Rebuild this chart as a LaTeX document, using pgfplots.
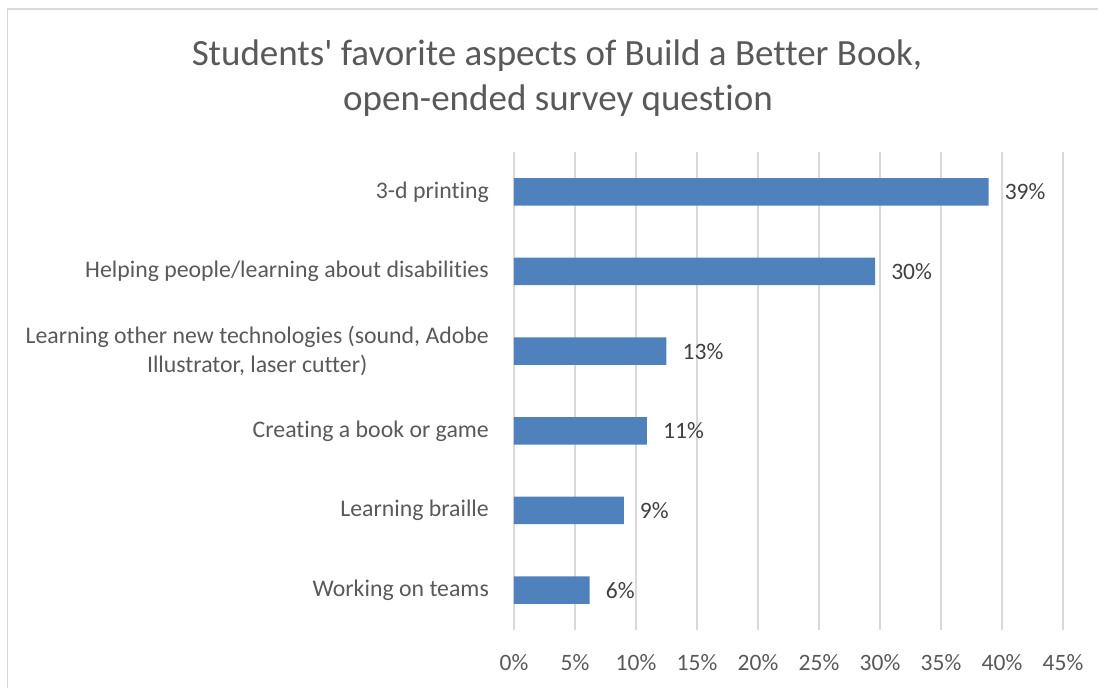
\documentclass[border=0pt]{standalone}
\usepackage{pgfplots}
\pgfplotsset{compat=1.18}
\usepackage{fontspec}
\setmainfont{Carlito}[Ligatures={NoCommon,TeXOff}]
\definecolor{barblue}{HTML}{4F81BD}
\definecolor{txt}{HTML}{595959}
\definecolor{lbl}{HTML}{404040}
\definecolor{gridc}{HTML}{D9D9D9}
\begin{document}
\begin{tikzpicture}[x=1pt,y=1pt]
\useasboundingbox (0pt,0pt) rectangle (1098pt,688pt);
\draw[gridc, line width=1.5pt] (7.5pt,0pt) -- (7.5pt,679pt) -- (1098pt,679pt);
\node[anchor=base, text=txt, inner sep=0pt] at (557pt,622pt) {\fontsize{37}{43}\selectfont Students' favorite aspects of Build a Better Book,};
\node[anchor=base, text=txt, inner sep=0pt] at (558pt,577pt) {\fontsize{37}{43}\selectfont open-ended survey question};
\begin{axis}[
  at={(514pt,58pt)}, anchor=south west,
  scale only axis, width=549pt, height=478pt,
  xmin=0, xmax=45, ymin=-0.5, ymax=5.5,
  enlargelimits=false, clip=false,
  xbar, bar width=27.5pt,
  axis line style={draw=none},
  major tick length=0pt,
  xmajorgrids, grid style={gridc, line width=1.3pt},
  xtick={0,5,10,15,20,25,30,35,40,45},
  xticklabels={0\%,5\%,10\%,15\%,20\%,25\%,30\%,35\%,40\%,45\%},
  xticklabel style={anchor=center, yshift=-33pt, inner sep=0pt, text=txt, font=\fontsize{23.5}{28}\selectfont},
  ytick={0,1,2,3,4,5},
  yticklabels={Working on teams, Learning braille, Creating a book or game, {Learning other new technologies (sound, Adobe\\Illustrator, laser cutter)}, Helping people/learning about disabilities, 3-d printing},
  yticklabel style={align=center, anchor=east, inner sep=0pt, xshift=-25pt, text=txt, font=\fontsize{23.8}{29}\selectfont},
  point meta=explicit symbolic,
  nodes near coords,
  nodes near coords style={anchor=west, inner sep=0pt, xshift=16pt, text=lbl, font=\fontsize{23.5}{28}\selectfont},
]
\addplot[fill=barblue, draw=none] coordinates {
  (6.2,0) [6\%]
  (9.0,1) [9\%]
  (10.9,2) [11\%]
  (12.5,3) [13\%]
  (29.6,4) [30\%]
  (38.9,5) [39\%]
};
\end{axis}
\end{tikzpicture}
\end{document}
